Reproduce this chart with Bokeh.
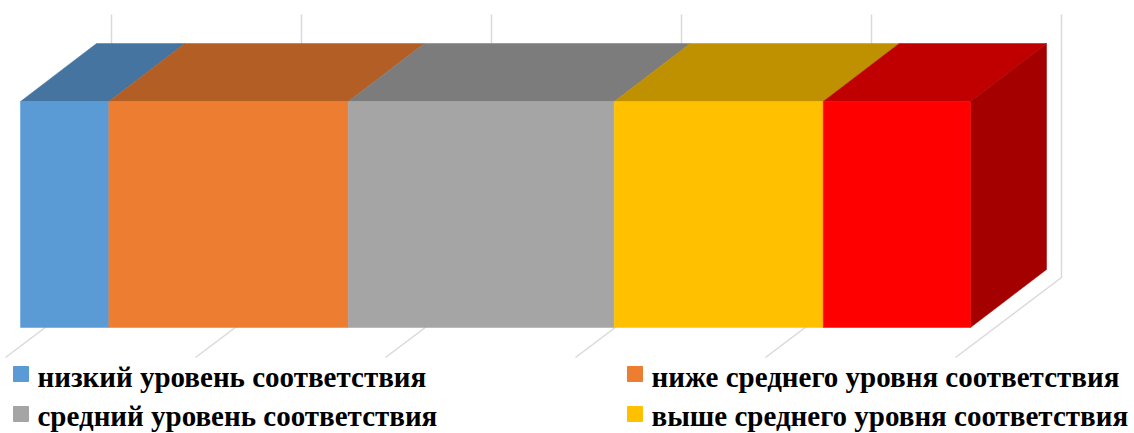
from bokeh.plotting import figure
from bokeh.models import ColumnDataSource, Range1d
from bokeh.core.properties import value
from bokeh.embed import file_html
from bokeh.resources import INLINE

# ---- data ----
categories = ["низкий уровень соответствия",
              "ниже среднего уровня соответствия",
              "средний уровень соответствия",
              "выше среднего уровня соответствия",
              "высокий уровень соответствия"]
values = [9.3, 25.2, 28.0, 22.0, 15.5]
tick_values = [0, 20, 40, 60, 80, 100]
legend_shown = [0, 1, 2, 3]

front_colors = ["#5B9BD5", "#ED7D31", "#A5A5A5", "#FFC000", "#FF0000"]
top_colors = ["#44749F", "#B35E25", "#7C7C7C", "#BF9000", "#C00000"]
side_color = "#A50000"
grid_color = "#D9D9D9"

# ---- geometry (page pixels -> data) ----
W, H = 1134, 433
OFF = 0              # page offset of the canvas
PX_PER_X = 9.5       # pixels per percent
PX_PER_Y = 226.0     # pixels per bar height
X0_PX, Y0_PX = 20, 327


def px2x(ix):
    return (ix - X0_PX) / PX_PER_X


def px2y(iy):
    return (Y0_PX - iy) / PX_PER_Y


DX = 76 / PX_PER_X
DY = 58 / PX_PER_Y

p = figure(width=W, height=H, output_backend="svg", toolbar_location=None,
           x_range=Range1d(px2x(OFF), px2x(OFF + W)),
           y_range=Range1d(px2y(OFF + H), px2y(OFF)),
           min_border=0, x_axis_location=None, y_axis_location=None,
           outline_line_color=None, background_fill_color="white",
           border_fill_color="white")
p.xgrid.visible = False
p.ygrid.visible = False

# gridlines (floor + back wall)
gx, gy = [], []
for v in tick_values:
    gx.append([v + px2x(5), v + px2x(111), v + px2x(111)])
    gy.append([px2y(357), px2y(277), px2y(14)])
p.multi_line(gx, gy, line_color=grid_color, line_width=1.5)

# bar segments
starts, ends = [], []
acc = 0.0
for val in values:
    starts.append(acc)
    acc += val
    ends.append(acc)

top_xs = [[s, e, e + DX, s + DX] for s, e in zip(starts, ends)]
top_ys = [[1, 1, 1 + DY, 1 + DY] for _ in values]
p.patches(top_xs, top_ys, fill_color=top_colors, line_color=top_colors, line_width=0.5)

# side face of the last segment
end = ends[-1]
p.patch([end, end + DX, end + DX, end], [0, DY, 1 + DY, 1],
        fill_color=side_color, line_color=side_color, line_width=0.5)

front = ColumnDataSource(dict(left=starts, right=ends, color=front_colors))
p.quad(left="left", right="right", bottom=0, top=1, source=front,
       fill_color="color", line_color="color", line_width=0.5)

# legend (manual, two columns)
col_sq_px = [13, 627]
col_tx_px = [37, 651]
row_sq_top_px = [366, 406]
row_base_px = [376, 415]
sq = 15
lx0, lx1, ly0, ly1, lc, tx, ty, tt = [], [], [], [], [], [], [], []
for k, idx in enumerate(legend_shown):
    col = k % 2
    row = k // 2
    lx0.append(px2x(col_sq_px[col]))
    lx1.append(px2x(col_sq_px[col] + sq))
    ly1.append(px2y(row_sq_top_px[row]))
    ly0.append(px2y(row_sq_top_px[row] + sq))
    lc.append(front_colors[idx])
    tx.append(px2x(col_tx_px[col]))
    ty.append(px2y(row_base_px[row]))
    tt.append(categories[idx])
p.quad(left=lx0, right=lx1, bottom=ly0, top=ly1, fill_color=lc, line_color=lc)
p.text(x=tx, y=ty, text=tt, text_font=value("Liberation Serif"),
       text_font_style="bold", text_font_size="29px",
       text_baseline="alphabetic", text_align="left", text_color="black")

open("out.html", "w").write(file_html(p, INLINE))
